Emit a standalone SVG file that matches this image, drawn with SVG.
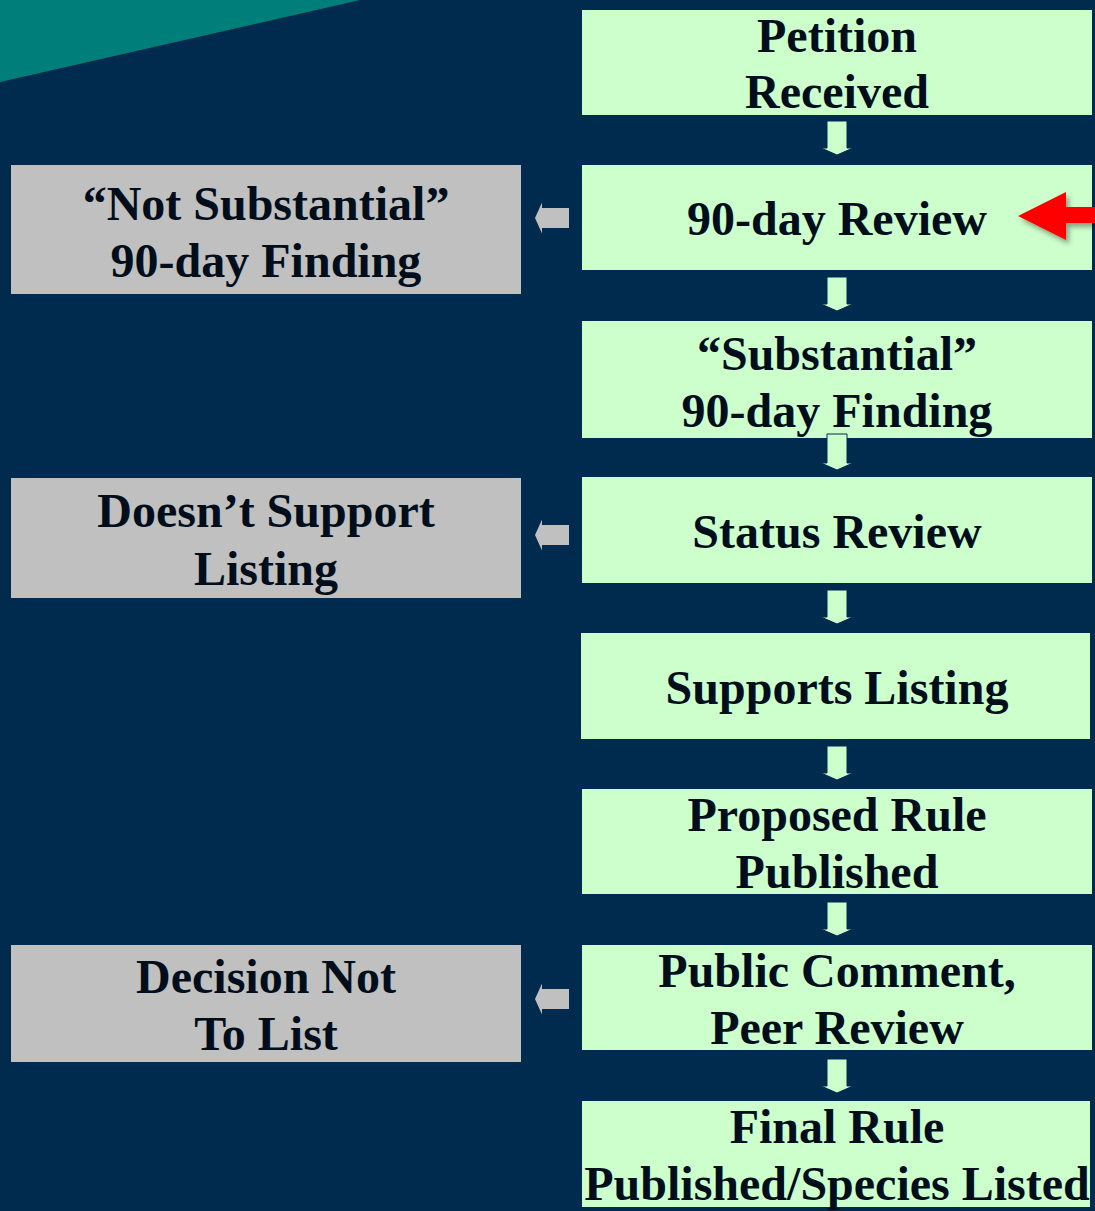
<svg xmlns="http://www.w3.org/2000/svg" width="1095" height="1211" viewBox="0 0 1095 1211">
<defs>
<style>
.g{fill:#CCFFCC}
.r{fill:#C0C0C0}
.t{font-family:"Liberation Serif","Times New Roman",serif;font-weight:bold;font-size:48px;fill:#000E1C;text-anchor:middle}
.da{fill:#CCFFCC;stroke:#002A4E;stroke-width:1}
.la{fill:#C0C0C0}
</style>
<filter id="sh" x="-30%" y="-30%" width="160%" height="160%">
<feGaussianBlur in="SourceAlpha" stdDeviation="2.5"/>
<feOffset dx="3" dy="4" result="b"/>
<feFlood flood-color="#000" flood-opacity="0.35"/>
<feComposite in2="b" operator="in"/>
<feMerge><feMergeNode/><feMergeNode in="SourceGraphic"/></feMerge>
</filter>
</defs>
<rect width="1095" height="1211" fill="#002A4E"/>
<polygon points="0,0 360,0 0,82" fill="#007F7A"/>

<g id="petition"><rect class="g" x="582" y="10" width="510" height="105"/><text class="t" x="837" y="52">Petition</text><text class="t" x="837" y="108">Received</text></g>
<g id="review90"><rect class="g" x="582" y="165" width="510" height="105"/><text class="t" x="837" y="235">90-day Review</text></g>
<g id="substantial"><rect class="g" x="582" y="321" width="510" height="117"/><text class="t" x="837" y="370">“Substantial”</text><text class="t" x="837" y="427">90-day Finding</text></g>
<g id="status"><rect class="g" x="582" y="477" width="510" height="106"/><text class="t" x="837" y="548">Status Review</text></g>
<g id="supports"><rect class="g" x="581" y="633" width="509" height="106"/><text class="t" x="837" y="704">Supports Listing</text></g>
<g id="proposed"><rect class="g" x="582" y="789" width="510" height="105"/><text class="t" x="837" y="831">Proposed Rule</text><text class="t" x="837" y="888">Published</text></g>
<g id="public"><rect class="g" x="582" y="945" width="510" height="105"/><text class="t" x="837" y="987">Public Comment,</text><text class="t" x="837" y="1044">Peer Review</text></g>
<g id="final"><rect class="g" x="582" y="1101" width="508" height="106"/><text class="t" x="837" y="1143">Final Rule</text><text class="t" x="837" y="1200">Published/Species Listed</text></g>

<g id="notsubstantial"><rect class="r" x="11" y="165" width="510" height="129"/><text class="t" x="266" y="220">“Not Substantial”</text><text class="t" x="266" y="277">90-day Finding</text></g>
<g id="doesntsupport"><rect class="r" x="11" y="478" width="510" height="120"/><text class="t" x="266" y="527">Doesn’t Support</text><text class="t" x="266" y="585">Listing</text></g>
<g id="decisionnot"><rect class="r" x="11" y="945" width="510" height="117"/><text class="t" x="266" y="993">Decision Not</text><text class="t" x="266" y="1050">To List</text></g>

<g id="connectors">
<path class="da" d="M827,121 H847 V148 H853 L837,155 L821,148 H827 Z"/>
<path class="da" d="M827,277 H847 V304 H853 L837,311 L821,304 H827 Z"/>
<path class="da" d="M827,434 H847 V463 H853 L837,470 L821,463 H827 Z"/>
<path class="da" d="M827,590 H847 V617 H853 L837,624 L821,617 H827 Z"/>
<path class="da" d="M827,746 H847 V773 H853 L837,780 L821,773 H827 Z"/>
<path class="da" d="M827,902 H847 V929 H853 L837,936 L821,929 H827 Z"/>
<path class="da" d="M827,1059 H847 V1086 H853 L837,1093 L821,1086 H827 Z"/>
<path class="la" d="M569,208 V228 H542 V233.5 L535,218 L542,202.5 V208 Z"/>
<path class="la" d="M569,525 V545 H542 V550.5 L535,535 L542,519.5 V525 Z"/>
<path class="la" d="M569,989 V1009 H542 V1014.5 L535,999 L542,983.5 V989 Z"/>
<path d="M1095,207 V223 H1066 V240 L1018,216 L1066,192 V207 Z" fill="#FF0000" filter="url(#sh)"/>
</g>
</svg>
